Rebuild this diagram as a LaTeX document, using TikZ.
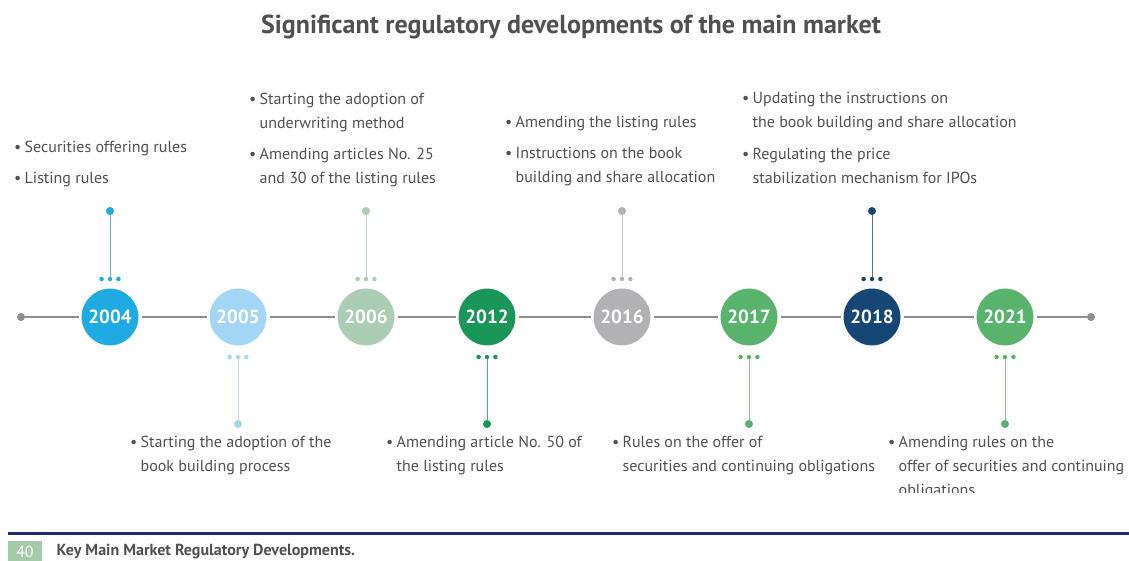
\documentclass[tikz,border=0pt]{standalone}
\usepackage{fontspec}
\setmainfont{PT Sans}
\usetikzlibrary{positioning}

\definecolor{cA}{HTML}{1FAAE2}
\definecolor{cB}{HTML}{A3D6F5}
\definecolor{cC}{HTML}{AACDB4}
\definecolor{cD}{HTML}{1B9659}
\definecolor{cE}{HTML}{B2B2B4}
\definecolor{cF}{HTML}{58B46D}
\definecolor{cG}{HTML}{164673}
\definecolor{cH}{HTML}{58B46D}
\definecolor{lineclr}{HTML}{8E8C8E}
\definecolor{txtclr}{HTML}{505052}
\definecolor{navyclr}{HTML}{1E2A6E}
\definecolor{boxclr}{HTML}{A3CBAA}

% one bullet item: first line, optional second line
\newcommand{\itm}[2]{\makebox[10.5pt][l]{•}#1\ifx&#2&\else\\\hspace*{10.5pt}#2\fi}

\tikzset{
  year/.style={circle, fill=#1, draw=white, line width=3pt, minimum size=60pt,
    inner sep=0pt, text=white, font=\bfseries\fontsize{19}{19}\selectfont},
  enddot/.style={circle, fill=lineclr, inner sep=0pt, minimum size=8pt},
  bigdot/.style={circle, fill=#1, inner sep=0pt, minimum size=8pt},
  smalldot/.style={circle, fill=#1, inner sep=0pt, minimum size=4.5pt},
  tline/.style={draw=lineclr, line width=2pt},
  stem/.style={draw=#1, line width=1pt},
  % anchored at the baseline of the last line
  item/.style={anchor=base west, align=left, inner sep=0pt, text=txtclr,
    font=\fontsize{16}{24}\selectfont},
}

\begin{document}
\begin{tikzpicture}[x=1pt, y=-1pt]
  \useasboundingbox (0,0) rectangle (1129,561);

  % title
  \node[text=txtclr, font=\bfseries\fontsize{26}{26}\selectfont] (title) at (571,27) {Significant regulatory developments of the main market};

  % years on the time line
  \node[enddot] (lend) at (21,317) {};
  \node[enddot] (rend) at (1091,317) {};
  \foreach \yr/\xx/\col in {2004/110/cA, 2005/238/cB, 2006/366/cC, 2012/487/cD,
                            2016/622/cE, 2017/749/cF, 2018/872/cG, 2021/1005/cH}
    \node[year=\col] (y\yr) at (\xx,317) {\yr};
  \draw[tline] (lend) -- (y2004) -- (y2005) -- (y2006) -- (y2012) -- (y2016)
    -- (y2017) -- (y2018) -- (y2021) -- (rend);

  % stems above
  \foreach \yr/\xx/\col in {2004/110/cA, 2006/366/cC, 2016/622/cE, 2018/872/cG} {
    \node[bigdot=\col] (t\yr) at (\xx,211) {};
    \node[smalldot=\col] (m\yr) at (\xx,279) {};
    \node[smalldot=\col, left=3.5pt of m\yr] (l\yr) {};
    \node[smalldot=\col, right=3.5pt of m\yr] (r\yr) {};
    \draw[stem=\col!75] (t\yr) -- (m\yr);
  }
  % stems below
  \foreach \yr/\xx/\col in {2005/238/cB, 2012/487/cD, 2017/749/cF, 2021/1005/cH} {
    \node[bigdot=\col] (t\yr) at (\xx,424) {};
    \node[smalldot=\col] (m\yr) at (\xx,357) {};
    \node[smalldot=\col, left=3.5pt of m\yr] (l\yr) {};
    \node[smalldot=\col, right=3.5pt of m\yr] (r\yr) {};
    \draw[stem=\col!75] (t\yr) -- (m\yr);
  }

  % texts above
  \node[item] (a2004a) at (14,153) {\itm{Securities offering rules}{}};
  \node[item] (a2004b) at (14,184) {\itm{Listing rules}{}};
  \node[item] (a2006a) at (249,129) {\itm{Starting the adoption of}{underwriting method}};
  \node[item] (a2006b) at (249,184) {\itm{Amending articles No. 25}{and 30 of the listing rules}};
  \node[item] (a2016a) at (505,128) {\itm{Amending the listing rules}{}};
  \node[item] (a2016b) at (505,183) {\itm{Instructions on the book}{building and share allocation}};
  \node[item] (a2018a) at (742,128) {\itm{Updating the instructions on}{the book building and share allocation}};
  \node[item] (a2018b) at (742,184) {\itm{Regulating the price}{stabilization mechanism for IPOs}};

  % texts below
  \node[item] (b2005) at (130,471) {\itm{Starting the adoption of the}{book building process}};
  \node[item] (b2012) at (386,471) {\itm{Amending article No. 50 of}{the listing rules}};
  \node[item] (b2017) at (612,471) {\itm{Rules on the offer of}{securities and continuing obligations}};
  \begin{scope}
    \clip (850,400) rectangle (1129,492);
    \node[item] (b2021) at (888,495) {\itm{Amending rules on the}{offer of securities and continuing}\\\hspace*{10.5pt}obligations};
  \end{scope}

  % footer
  \coordinate (fl) at (8,533);
  \coordinate (fr) at (1129,533);
  \draw[navyclr, line width=3pt] (fl) -- (fr);
  \node[fill=boxclr, minimum width=34pt, minimum height=22pt, inner sep=0pt,
    text=white, font=\fontsize{16}{16}\selectfont] (pagebox) at (25,552) {40};
  \node[anchor=west, text=txtclr, font=\bfseries\fontsize{16}{16}\selectfont,
    right=11pt of pagebox] (caption) {Key Main Market Regulatory Developments.};
\end{tikzpicture}
\end{document}
